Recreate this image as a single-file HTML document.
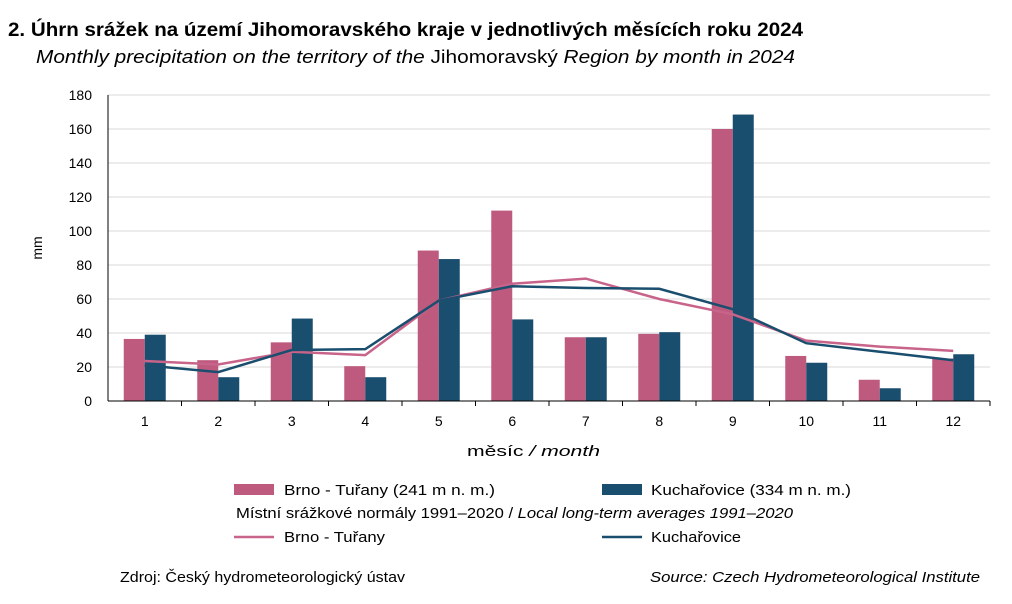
<!DOCTYPE html>
<html><head><meta charset="utf-8"><style>
body{margin:0;background:#fff;width:1012px;height:599px;overflow:hidden;font-family:"Liberation Sans",sans-serif;}
</style></head><body>
<svg width="1012" height="599" xmlns="http://www.w3.org/2000/svg" font-family="Liberation Sans, sans-serif">
<text x="8" y="36" font-size="19" font-weight="bold" fill="#000" textLength="795" lengthAdjust="spacingAndGlyphs">2. Úhrn srážek na území Jihomoravského kraje v jednotlivých měsících roku 2024</text>
<text x="36" y="63" font-size="18" fill="#000" textLength="759" lengthAdjust="spacingAndGlyphs"><tspan font-style="italic">Monthly precipitation on the territory of the </tspan>Jihomoravský<tspan font-style="italic"> Region by month in 2024</tspan></text>
<g stroke="#d9d9d9" stroke-width="1">
<line x1="108" y1="367" x2="990" y2="367"/><line x1="108" y1="333" x2="990" y2="333"/><line x1="108" y1="299" x2="990" y2="299"/><line x1="108" y1="265" x2="990" y2="265"/><line x1="108" y1="231" x2="990" y2="231"/><line x1="108" y1="197" x2="990" y2="197"/><line x1="108" y1="163" x2="990" y2="163"/><line x1="108" y1="129" x2="990" y2="129"/><line x1="108" y1="95" x2="990" y2="95"/>
</g>
<g font-size="14" fill="#000" text-anchor="end">
<text x="92" y="406">0</text><text x="92" y="372">20</text><text x="92" y="338">40</text><text x="92" y="304">60</text><text x="92" y="270">80</text><text x="92" y="236">100</text><text x="92" y="202">120</text><text x="92" y="168">140</text><text x="92" y="134">160</text><text x="92" y="100">180</text>
</g>
<text transform="translate(42,248) rotate(-90)" font-size="14" text-anchor="middle">mm</text>
<g id="bars"></g>
<line x1="108" y1="95" x2="108" y2="401" stroke="#000"/>
<line x1="108" y1="401" x2="990" y2="401" stroke="#000"/>
<g id="ticks" stroke="#000"></g>
<g id="xl" font-size="14" text-anchor="middle"></g>
<polyline id="lp" fill="none" stroke="#c8638a" stroke-width="2.5"/>
<polyline id="lb" fill="none" stroke="#1a4e6e" stroke-width="2.5"/>
<text x="467" y="456" font-size="15" textLength="133" lengthAdjust="spacingAndGlyphs">měsíc <tspan font-style="italic">/ month</tspan></text>
<rect x="234" y="484" width="40" height="11" fill="#bd5a7e"/>
<text x="284" y="495" font-size="15" textLength="211" lengthAdjust="spacingAndGlyphs">Brno - Tuřany (241 m n. m.)</text>
<rect x="602" y="484" width="40" height="11" fill="#1a4e6e"/>
<text x="651" y="495" font-size="15" textLength="200" lengthAdjust="spacingAndGlyphs">Kuchařovice (334 m n. m.)</text>
<text x="236" y="518" font-size="15" textLength="557" lengthAdjust="spacingAndGlyphs">Místní srážkové normály 1991–2020 / <tspan font-style="italic">Local long-term averages 1991–2020</tspan></text>
<line x1="234" y1="537" x2="274" y2="537" stroke="#c8638a" stroke-width="2.5"/>
<text x="284" y="542" font-size="15" textLength="101" lengthAdjust="spacingAndGlyphs">Brno - Tuřany</text>
<line x1="602" y1="537" x2="642" y2="537" stroke="#1a4e6e" stroke-width="2.5"/>
<text x="651" y="542" font-size="15" textLength="90" lengthAdjust="spacingAndGlyphs">Kuchařovice</text>
<text x="120" y="582" font-size="15" textLength="285" lengthAdjust="spacingAndGlyphs">Zdroj:  Český  hydrometeorologický  ústav</text>
<text x="650" y="582" font-size="15" font-style="italic" textLength="330" lengthAdjust="spacingAndGlyphs">Source: Czech Hydrometeorological Institute</text>
</svg>
<script>
var P=[36.5,24,34.5,20.5,88.5,112,37.5,39.5,160,26.5,12.5,25],B=[39,14,48.5,14,83.5,48,37.5,40.5,168.5,22.5,7.5,27.5];
var LP=[23.5,21.5,29,27,59,69,72,60,51,35.5,32,29.5],LB=[21,17,30,30.5,59,67.5,66.5,66,54,34,29,24];
var ns="http://www.w3.org/2000/svg",g=document.getElementById('bars'),t=document.getElementById('ticks'),xl=document.getElementById('xl');
var w=882/12,y=v=>401-v*1.7,pp=[],pb=[];
for(var i=0;i<12;i++){var c=108+w*(i+0.5);
var r=document.createElementNS(ns,'rect');r.setAttribute('x',c-21);r.setAttribute('y',y(P[i]));r.setAttribute('width',21);r.setAttribute('height',P[i]*1.7);r.setAttribute('fill','#bd5a7e');g.appendChild(r);
r=document.createElementNS(ns,'rect');r.setAttribute('x',c);r.setAttribute('y',y(B[i]));r.setAttribute('width',21);r.setAttribute('height',B[i]*1.7);r.setAttribute('fill','#1a4e6e');g.appendChild(r);
var l=document.createElementNS(ns,'line'),tx=108+w*(i+1);l.setAttribute('x1',tx);l.setAttribute('x2',tx);l.setAttribute('y1',401);l.setAttribute('y2',406);t.appendChild(l);
var tt=document.createElementNS(ns,'text');tt.setAttribute('x',c);tt.setAttribute('y',426);tt.textContent=i+1;xl.appendChild(tt);
pp.push(c+','+y(LP[i]));pb.push(c+','+y(LB[i]));}
document.getElementById('lp').setAttribute('points',pp.join(' '));
document.getElementById('lb').setAttribute('points',pb.join(' '));
</script>
</body></html>
